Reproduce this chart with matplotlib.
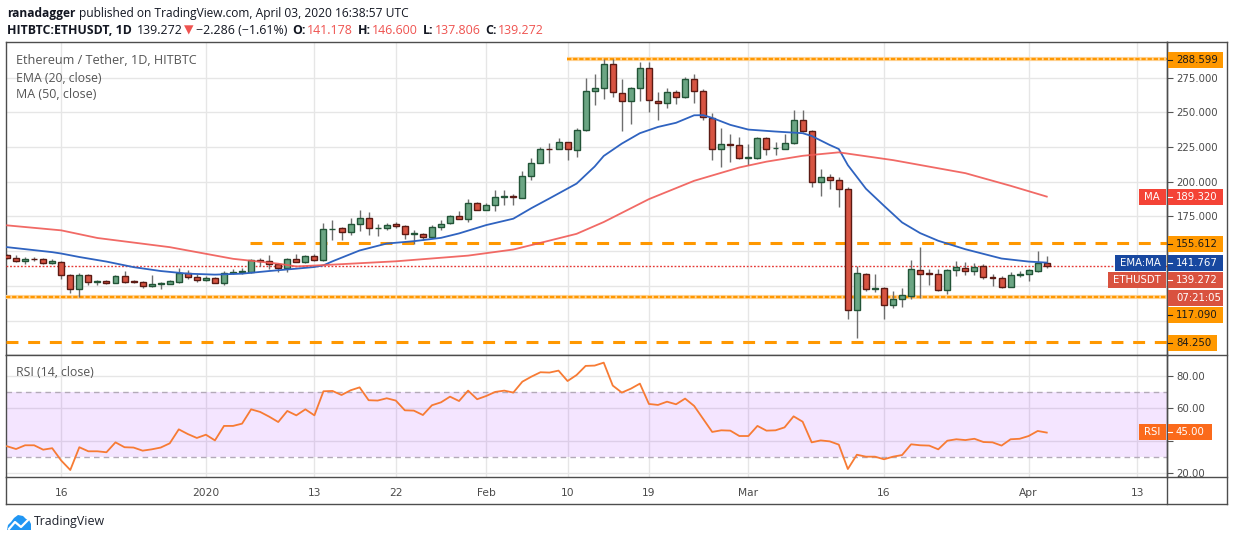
import matplotlib
matplotlib.use('Agg')
import matplotlib.pyplot as plt
import matplotlib.dates as mdates
from matplotlib.patches import Rectangle, Polygon
from matplotlib.lines import Line2D
from matplotlib.transforms import Affine2D
from matplotlib.ticker import FuncFormatter
import numpy as np
import pandas as pd

W, H = 1234, 541
plt.rcParams['lines.scale_dashes'] = False
plt.rcParams['font.family'] = ['DejaVu Sans']

# ---------------- data ----------------
first_day = '2019-12-10'
opens = [147.6, 145.2, 143.1, 144.5, 144.3, 141.7, 142.4, 133.1, 122.4, 133.1,
         128.1, 128.8, 127.4, 132.4, 128.1, 128.1, 125.2, 126.0, 126.7, 128.1,
         134.5, 131.7, 129.5, 131.0, 127.4, 134.5, 134.8, 135.3, 143.8, 143.1,
         141.0, 138.1, 144.5, 142.4, 146.7, 143.8, 165.7, 166.4, 164.0, 169.6,
         174.2, 166.6, 166.6, 169.8, 168.3, 162.5, 162.5, 160.4, 167.7, 170.3,
         175.6, 173.4, 185.0, 179.9, 183.4, 188.7, 190.1, 188.5, 203.9, 213.4,
         223.5, 223.5, 228.6, 222.6, 237.1, 265.6, 267.8, 285.0, 264.2, 258.2,
         267.8, 282.2, 258.5, 257.0, 264.9, 261.3, 274.3, 265.6, 246.2, 223.9,
         227.5, 226.8, 217.2, 217.2, 231.8, 224.0, 223.9, 228.0, 244.8, 236.9,
         199.5, 203.1, 201.0, 194.5, 107.9, 133.9, 122.8, 123.6, 111.5, 115.9,
         117.8, 136.1, 134.1, 133.4, 122.1, 136.1, 138.2, 135.8, 139.2, 131.7,
         131.0, 124.3, 132.5, 133.8, 135.8, 141.178]
highs = [148.3, 146.9, 146.0, 145.5, 145.0, 144.3, 142.6, 133.5, 134.5, 133.8,
         129.5, 129.2, 133.1, 135.5, 129.5, 128.5, 132.6, 127.8, 129.5, 138.0,
         136.1, 133.6, 131.9, 131.5, 135.7, 136.9, 137.7, 144.5, 145.2, 147.6,
         141.5, 144.8, 148.3, 146.9, 148.0, 170.5, 172.4, 167.6, 174.2, 179.7,
         178.0, 169.5, 170.5, 171.2, 168.5, 165.0, 163.2, 168.5, 172.2, 176.3,
         178.8, 187.5, 185.7, 184.5, 194.0, 193.8, 191.5, 207.8, 217.0, 224.9,
         228.0, 231.3, 228.8, 239.0, 275.0, 277.9, 288.2, 288.6, 273.8, 268.5,
         286.0, 286.3, 264.7, 267.8, 266.1, 275.7, 277.4, 266.6, 249.8, 238.5,
         234.7, 232.5, 227.5, 232.5, 232.5, 228.6, 234.5, 251.5, 251.5, 237.5,
         209.0, 205.8, 203.1, 195.9, 139.4, 134.6, 133.4, 124.5, 121.2, 123.6,
         143.3, 152.9, 137.5, 137.5, 137.5, 143.0, 142.5, 141.8, 141.1, 133.4,
         132.2, 135.3, 135.6, 137.0, 150.0, 146.6]
lows = [144.2, 142.1, 140.5, 143.0, 141.0, 141.0, 129.8, 120.2, 117.1, 125.7,
        125.5, 126.5, 126.9, 126.9, 126.9, 123.8, 124.0, 123.0, 126.0, 126.9,
        130.2, 128.1, 128.8, 126.9, 125.7, 133.3, 133.8, 134.5, 139.0, 137.0,
        135.0, 135.0, 142.0, 141.7, 142.9, 142.9, 158.4, 157.7, 162.0, 164.2,
        161.3, 160.6, 165.0, 166.4, 158.7, 155.0, 157.7, 159.5, 165.5, 169.6,
        172.9, 171.3, 179.4, 179.4, 178.6, 183.6, 183.6, 188.0, 201.0, 213.4,
        213.4, 223.5, 216.0, 217.9, 236.9, 255.1, 259.4, 261.0, 236.6, 241.4,
        258.5, 250.3, 244.5, 253.1, 255.8, 260.6, 256.5, 244.3, 215.5, 210.3,
        213.9, 216.2, 212.2, 216.2, 219.1, 219.6, 223.9, 227.0, 236.2, 195.9,
        189.9, 195.0, 181.5, 101.0, 87.7, 121.4, 120.7, 101.0, 109.1, 109.9,
        115.4, 116.3, 125.5, 121.4, 119.0, 132.2, 132.7, 132.7, 129.8, 125.0,
        123.3, 124.3, 131.3, 128.6, 135.1, 137.806]
closes = [145.2, 142.9, 144.5, 144.3, 141.7, 142.6, 133.1, 122.4, 133.1, 128.1,
          128.4, 127.4, 132.4, 128.1, 128.0, 125.2, 126.0, 126.9, 128.3, 134.5,
          131.7, 129.5, 131.0, 127.4, 134.5, 134.8, 135.5, 143.8, 142.9, 141.0,
          137.9, 144.5, 142.4, 146.7, 143.8, 165.7, 166.2, 164.0, 169.8, 174.2,
          166.6, 166.9, 169.1, 168.1, 162.5, 162.6, 160.4, 167.7, 169.8, 175.6,
          173.4, 185.0, 179.9, 183.6, 188.7, 190.1, 188.7, 203.9, 213.4, 223.5,
          223.4, 228.6, 223.3, 237.6, 265.6, 267.8, 285.0, 264.9, 258.5, 267.8,
          282.2, 258.9, 257.0, 264.9, 261.3, 274.3, 265.4, 246.7, 223.9, 227.5,
          226.6, 217.2, 217.7, 231.8, 223.9, 224.4, 228.2, 244.8, 236.9, 199.5,
          203.1, 201.0, 194.5, 107.9, 134.6, 122.8, 123.6, 111.5, 115.9, 118.5,
          136.8, 133.2, 133.4, 122.1, 136.1, 138.9, 135.8, 138.9, 131.5, 130.8,
          124.3, 132.5, 133.8, 136.4, 141.558, 139.272]
rsi_vals = [36.6, 34.9, 37.2, 37.2, 34.5, 35.4, 27.8, 22.0, 36.0, 33.5,
            33.5, 32.9, 39.0, 36.0, 35.8, 33.9, 34.7, 35.8, 38.4, 47.0,
            44.1, 41.7, 43.7, 40.2, 49.1, 49.1, 50.5, 59.3, 57.7, 54.8,
            51.5, 58.3, 55.6, 59.3, 55.6, 70.4, 70.6, 68.1, 71.0, 72.8,
            64.9, 64.7, 66.1, 64.7, 58.7, 58.5, 55.8, 61.8, 63.6, 67.1,
            64.4, 70.8, 65.5, 67.5, 70.0, 70.8, 69.6, 76.3, 79.4, 82.1,
            81.9, 83.1, 76.7, 80.4, 86.0, 86.2, 88.0, 73.9, 69.6, 72.0,
            75.1, 62.6, 62.0, 64.0, 62.4, 65.9, 61.4, 53.4, 45.4, 46.4,
            46.2, 42.9, 42.9, 49.1, 46.2, 46.4, 48.2, 55.0, 51.7, 39.0,
            40.2, 39.6, 37.6, 22.6, 31.4, 30.2, 30.2, 28.6, 30.2, 31.2,
            37.8, 37.2, 37.0, 34.7, 40.0, 40.9, 40.4, 41.2, 39.2, 39.0,
            37.0, 40.9, 41.2, 42.9, 46.0, 45.0]

ema_dates = ['2019-12-10', '2019-12-15', '2019-12-16', '2019-12-18', '2019-12-21',
             '2019-12-24', '2019-12-27', '2019-12-30', '2020-01-02', '2020-01-05',
             '2020-01-08', '2020-01-11', '2020-01-13', '2020-01-14', '2020-01-15',
             '2020-01-18', '2020-01-21', '2020-01-24', '2020-01-27', '2020-01-29',
             '2020-02-01', '2020-02-04', '2020-02-06', '2020-02-08', '2020-02-11',
             '2020-02-13', '2020-02-14', '2020-02-16', '2020-02-18', '2020-02-20',
             '2020-02-22', '2020-02-24', '2020-02-25', '2020-02-26', '2020-02-28',
             '2020-03-01', '2020-03-04', '2020-03-07', '2020-03-08', '2020-03-10',
             '2020-03-11', '2020-03-12', '2020-03-14', '2020-03-16', '2020-03-18',
             '2020-03-20', '2020-03-22', '2020-03-25', '2020-03-29', '2020-04-01',
             '2020-04-03']
ema_vals = [152.9, 149.3, 148.3, 145.8, 142.5, 138.5, 135.7, 133.8, 133.1, 133.8,
            135.7, 137.4, 138.6, 139.8, 142.7, 150.5, 155.5, 157.2, 159.6, 162.8,
            168.8, 173.4, 181.0, 188.0, 198.7, 211.0, 218.6, 227.5, 235.0, 239.5,
            242.5, 247.9, 248.0, 246.0, 241.0, 237.6, 236.2, 235.0, 233.0, 226.5,
            223.6, 212.0, 195.0, 182.7, 170.7, 163.0, 157.5, 151.4, 144.7, 142.5,
            141.767]

ma_dates = ['2019-12-10', '2019-12-16', '2019-12-20', '2019-12-28', '2020-01-04',
            '2020-01-09', '2020-01-11', '2020-01-15', '2020-01-22', '2020-01-30',
            '2020-02-04', '2020-02-07', '2020-02-11', '2020-02-14', '2020-02-19',
            '2020-02-24', '2020-02-29', '2020-03-03', '2020-03-07', '2020-03-11',
            '2020-03-17', '2020-03-25', '2020-03-30', '2020-04-03']
ma_vals = [168.6, 165.0, 159.5, 152.9, 144.5, 141.0, 139.0, 140.3, 142.7, 146.8,
           151.2, 156.0, 162.5, 171.0, 187.5, 200.7, 210.3, 214.5, 218.7, 221.2,
           215.6, 206.2, 197.1, 189.32]

tick_dates = ['2019-12-16', '2020-01-01', '2020-01-13', '2020-01-22', '2020-02-01',
              '2020-02-10', '2020-02-19', '2020-03-01', '2020-03-16', '2020-04-01',
              '2020-04-13']
tick_labels = ['16', '2020', '13', '22', 'Feb', '10', '19', 'Mar', '16', 'Apr', '13']
price_ticks = [100, 125, 150, 175, 200, 225, 250, 275]
price_labelled = [175, 200, 225, 250, 275]
rsi_ticks = [20, 40, 60, 80]
rsi_labelled = [20, 60, 80]

top_level, top_level_from = 288.599, '2020-02-10'
res_level, res_level_from = 155.612, '2020-01-06'
sup_level = 117.090
low_level = 84.250
last_price = 139.272
ema_last, ma_last, rsi_last = 141.767, 189.320, 45.00

# ---------------- figure ----------------
fig = plt.figure(figsize=(W / 100, H / 100), dpi=100)
fig.patch.set_facecolor('white')
PX = Affine2D().scale(1, -1).translate(0, H) + fig.transFigure.inverted() + fig.transFigure


def axrect(x0, y0, x1, y1):
    return [x0 / W, 1 - y1 / H, (x1 - x0) / W, (y1 - y0) / H]


XL, XR = 6, 1167
ax1 = fig.add_axes(axrect(XL, 42, XR, 355))
ax2 = fig.add_axes(axrect(XL, 355, XR, 477), sharex=ax1)

dates = pd.date_range(first_day, periods=len(closes), freq='D')
xd = mdates.date2num(dates.to_pydatetime())
d0 = xd[0]
ax1.set_xlim(d0 - 0.11, d0 + 128.3)
ax1.set_ylim(75.2, 300.7)
ax2.set_ylim(17.7, 92.7)

grid_c = '#e6e6e6'
frame_c = '#4d4d4d'
AX_FS = 7.3
tickx = mdates.date2num(pd.to_datetime(tick_dates).to_pydatetime())
for ax in (ax1, ax2):
    ax.set_facecolor('white')
    for s in ax.spines.values():
        s.set_color(frame_c)
        s.set_linewidth(1.0)
    ax.set_xticks(tickx)
    ax.grid(True, color=grid_c, linewidth=1.0)
    ax.set_axisbelow(True)
    ax.yaxis.tick_right()
    ax.tick_params(axis='y', direction='out', length=4, width=0.8, color='#555555',
                   labelcolor='#4a4a4a', labelsize=AX_FS, pad=3)
ax1.tick_params(axis='x', length=0, labelbottom=False)
ax2.tick_params(axis='x', length=0, labelsize=AX_FS + 0.4, labelcolor='#4a4a4a', pad=8)
ax2.set_xticklabels(tick_labels)
ax1.set_yticks(price_ticks)
ax1.yaxis.set_major_formatter(
    FuncFormatter(lambda v, p: f'{v:.3f}' if round(v) in price_labelled else ''))
ax2.set_yticks(rsi_ticks)
ax2.yaxis.set_major_formatter(
    FuncFormatter(lambda v, p: f'{v:.2f}' if round(v) in rsi_labelled else ''))

# ---------------- candles ----------------
o = np.array(opens); c = np.array(closes); hi = np.array(highs); lo = np.array(lows)
up = c >= o
ax1.vlines(xd, lo, hi, color='#6e6e6e', linewidth=1.0, zorder=3)
body_lo = np.minimum(o, c)
body_h = np.maximum(np.abs(c - o), 0.3)
face = np.where(up, '#6ba583', '#d75442')
edge = np.where(up, '#225437', '#5b1a13')
ax1.bar(xd, body_h, bottom=body_lo, width=0.66, color=face, edgecolor=edge,
        linewidth=1.0, zorder=4)

# moving averages
ema_x = mdates.date2num(pd.to_datetime(ema_dates).to_pydatetime())
ma_x = mdates.date2num(pd.to_datetime(ma_dates).to_pydatetime())
ax1.plot(ema_x, ema_vals, color='#2f63c0', linewidth=1.3, zorder=5)
ax1.plot(ma_x, ma_vals, color='#f05a55', linewidth=1.3, zorder=5, alpha=0.9)

# levels
xmax = d0 + 128.3
xmin = d0 - 0.11
tl_from = mdates.date2num(pd.Timestamp(top_level_from).to_pydatetime()) - 0.1
rl_from = mdates.date2num(pd.Timestamp(res_level_from).to_pydatetime()) - 0.1
for y, xs in ((top_level, tl_from), (sup_level, xmin)):
    ax1.plot([xs, xmax], [y, y], color='#ffd59a', linewidth=3.0, zorder=2.6,
             solid_capstyle='butt')
    ax1.plot([xs, xmax], [y, y], color='#ff9800', linewidth=1.6, zorder=2.7,
             linestyle=(0, (3.1, 1.3)))
for y, xs in ((res_level, rl_from), (low_level, xmin)):
    ax1.plot([xs, xmax], [y, y], color='#ff9800', linewidth=2.2, zorder=2.7,
             linestyle=(0, (8.6, 7.0)))
ax1.axhline(last_price, color='#e53935', linewidth=1.0, linestyle=(0, (1.3, 1.3)),
            zorder=2.8)

# RSI
ax2.axhspan(30, 70, color='#9500ff', alpha=0.1, linewidth=0, zorder=1)
for lv in (70, 30):
    ax2.axhline(lv, color='#b3aab8', linewidth=1.0, linestyle=(0, (4, 3)), zorder=1.5)
ax2.plot(xd, rsi_vals, color='#f77b34', linewidth=1.3, zorder=5)

# ---------------- frame lines ----------------
def fline(xs, ys, color=frame_c, lw=1.0, z=30):
    fig.add_artist(Line2D(xs, ys, transform=PX, color=color, linewidth=lw, zorder=z))

fline([XR, 1227], [42, 42])
fline([1227, 1227], [42, 504])
fline([XL, 1227], [504, 504])
fline([XL, XL], [477, 504])
fline([XR, XR], [42, 504])
fline([XR, 1227], [355, 355])
fline([XR, 1227], [477, 477])

# ---------------- axis label boxes ----------------
def vbox(yc, txt, facec, txtc, right=1223, h=16):
    fig.add_artist(Rectangle((XR + 0.5, yc - h / 2), right - XR - 0.5, h, transform=PX,
                             facecolor=facec, edgecolor='none', zorder=40))
    fig.add_artist(Line2D([XR + 1, XR + 5], [yc, yc], transform=PX, color=txtc,
                          linewidth=0.8, zorder=41))
    fig.text(XR + 9, yc, txt, transform=PX, fontsize=AX_FS, color=txtc, va='center',
             ha='left', zorder=42)


def nbox(yc, txt, x0, facec, txtc='white', h=16):
    fig.add_artist(Rectangle((x0, yc - h / 2), XR - 1.5 - x0, h, transform=PX,
                             facecolor=facec, edgecolor='none', zorder=40))
    fig.text((x0 + XR - 1.5) / 2, yc, txt, transform=PX, fontsize=AX_FS, color=txtc,
             va='center', ha='center', zorder=42)


orange = '#ff9800'
vbox(60, f'{top_level:.3f}', orange, '#1a1a1a')
nbox(197.3, 'MA', 1139, '#f44336')
vbox(197.3, f'{ma_last:.3f}', '#f44336', 'white')
vbox(244, f'{res_level:.3f}', orange, '#1a1a1a')
nbox(262.7, 'EMA:MA', 1115, '#1848a0')
vbox(262.7, f'{ema_last:.3f}', '#1848a0', 'white')
nbox(280, 'ETHUSDT', 1108, '#d9523f')
vbox(280, f'{last_price:.3f}', '#d9523f', 'white')
fig.add_artist(Rectangle((XR + 0.5, 289.5), 1223 - XR - 0.5, 16.5, transform=PX,
                         facecolor='#d9523f', edgecolor='none', zorder=40))
fig.text(XR + 9, 297.7, '07:21:05', transform=PX, fontsize=AX_FS, color='white',
         va='center', ha='left', zorder=42)
vbox(315, f'{sup_level:.3f}', orange, '#1a1a1a')
vbox(342.5, f'{low_level:.3f}', orange, '#1a1a1a', right=1217)
nbox(432.4, 'RSI', 1139, '#fb6a1b')
vbox(432.4, f'{rsi_last:.2f}', '#fb6a1b', 'white', right=1212)

# ---------------- texts ----------------
renderer = fig.canvas.get_renderer()


def seq_text(parts, x0, yc, target_w, family='Open Sans'):
    def place(size, keep):
        x = x0
        made = []
        for s, col, wt, gap in parts:
            t = fig.text(x, yc, s, transform=PX, fontsize=size, color=col,
                         fontweight=wt, va='center', ha='left',
                         family=[family, 'DejaVu Sans'], zorder=50)
            x += t.get_window_extent(renderer=renderer).width + gap
            made.append(t)
        if not keep:
            for t in made:
                t.remove()
        return x - x0
    w = place(10, False)
    place(10 * target_w / w, True)


dark = '#131722'
redt = '#ef5350'
seq_text([('ranadagger', dark, 'bold', 4),
          ('published on TradingView.com, April 03, 2020 16:38:57 UTC', dark, 'normal', 0)],
         7, 13, 405)
seq_text([('HITBTC:ETHUSDT, 1D', dark, 'bold', 5), ('139.272', dark, 'normal', 1),
          ('\u25bc', redt, 'normal', 3), ('\u22122.286 (\u22121.61%)', dark, 'normal', 5),
          ('O:', dark, 'bold', 1), ('141.178', redt, 'normal', 5),
          ('H:', dark, 'bold', 1), ('146.600', redt, 'normal', 5),
          ('L:', dark, 'bold', 1), ('137.806', redt, 'normal', 5),
          ('C:', dark, 'bold', 1), ('139.272', redt, 'normal', 0)],
         7, 30, 533)

legc = '#555555'
seq_text([('Ethereum / Tether, 1D, HITBTC', legc, 'normal', 0)], 16, 61, 180)
seq_text([('EMA (20, close)', legc, 'normal', 0)], 16, 78, 85)
seq_text([('MA (50, close)', legc, 'normal', 0)], 16, 95, 80)
seq_text([('RSI (14, close)', legc, 'normal', 0)], 16, 373, 77)

# TradingView logo
cloud = [(7, 530), (8, 525), (11, 522), (14, 518), (18, 515), (23, 516), (26, 519),
         (29, 520), (31, 524), (31, 530)]
fig.add_artist(Polygon(cloud, closed=True, transform=PX, facecolor='#2196f3',
                       edgecolor='none', zorder=50))
fig.add_artist(Line2D([9, 15, 21, 29], [529, 522, 527, 519], transform=PX,
                      color='white', linewidth=1.6, zorder=51))
seq_text([('TradingView', '#1e222d', 'normal', 0)], 34, 522, 71)

fig.savefig('out.png', dpi=100, facecolor='white')
